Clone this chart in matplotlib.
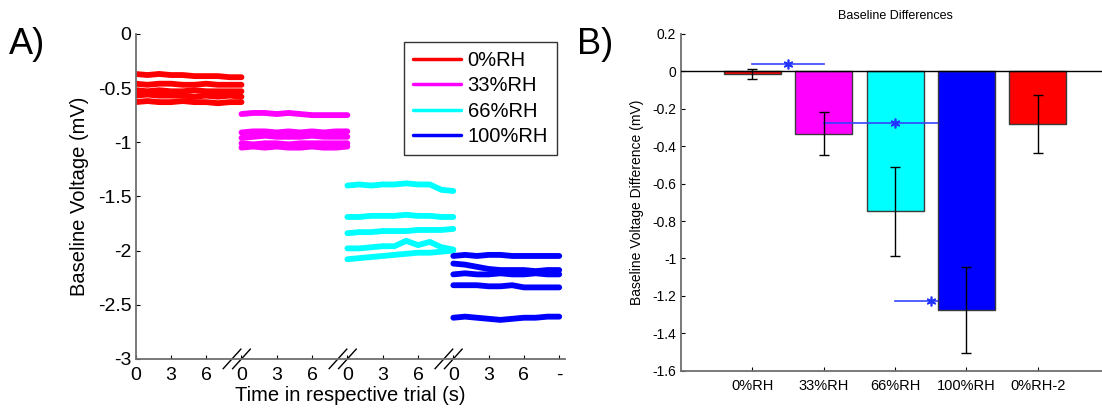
import numpy as np
import matplotlib
matplotlib.use("Agg")
import matplotlib.pyplot as plt

plt.rcParams["font.family"] = ["Liberation Sans", "DejaVu Sans"]

# ---- Panel A: baseline traces, one 9 s trial per humidity ----
trial_time = [0, 1, 2, 3, 4, 5, 6, 7, 8, 9]  # s
trial_length = 9

rh0 = [
    [-0.37, -0.38, -0.37, -0.38, -0.38, -0.39, -0.39, -0.39, -0.40, -0.40],
    [-0.46, -0.47, -0.46, -0.46, -0.47, -0.47, -0.46, -0.47, -0.47, -0.47],
    [-0.52, -0.53, -0.52, -0.53, -0.53, -0.52, -0.53, -0.53, -0.53, -0.53],
    [-0.57, -0.56, -0.57, -0.57, -0.57, -0.58, -0.57, -0.58, -0.57, -0.58],
    [-0.63, -0.62, -0.63, -0.63, -0.62, -0.63, -0.63, -0.64, -0.63, -0.63],
]
rh33 = [
    [-0.74, -0.73, -0.73, -0.74, -0.73, -0.74, -0.75, -0.75, -0.75, -0.75],
    [-0.91, -0.90, -0.90, -0.91, -0.90, -0.91, -0.90, -0.91, -0.90, -0.90],
    [-0.96, -0.95, -0.94, -0.95, -0.95, -0.95, -0.94, -0.95, -0.95, -0.95],
    [-1.01, -1.02, -1.01, -1.01, -1.02, -1.01, -1.01, -1.01, -1.01, -1.01],
    [-1.05, -1.04, -1.05, -1.04, -1.05, -1.05, -1.04, -1.05, -1.05, -1.04],
]
rh66 = [
    [-1.40, -1.39, -1.40, -1.39, -1.39, -1.38, -1.39, -1.39, -1.44, -1.45],
    [-1.69, -1.69, -1.68, -1.68, -1.68, -1.67, -1.68, -1.68, -1.69, -1.69],
    [-1.84, -1.83, -1.83, -1.82, -1.82, -1.82, -1.81, -1.81, -1.81, -1.80],
    [-1.98, -1.98, -1.97, -1.96, -1.96, -1.91, -1.95, -1.92, -1.97, -1.99],
    [-2.08, -2.07, -2.06, -2.05, -2.04, -2.03, -2.02, -2.02, -2.01, -2.00],
]
rh100 = [
    [-2.05, -2.04, -2.05, -2.04, -2.04, -2.05, -2.05, -2.05, -2.05, -2.05],
    [-2.12, -2.13, -2.15, -2.17, -2.18, -2.18, -2.18, -2.19, -2.18, -2.18],
    [-2.22, -2.21, -2.22, -2.22, -2.21, -2.22, -2.22, -2.21, -2.22, -2.22],
    [-2.32, -2.32, -2.32, -2.33, -2.33, -2.32, -2.34, -2.34, -2.34, -2.34],
    [-2.62, -2.61, -2.62, -2.63, -2.64, -2.63, -2.62, -2.62, -2.61, -2.61],
]
trace_labels = ["0%RH", "33%RH", "66%RH", "100%RH"]
trace_colors = ["#ff0000", "#ff00ff", "#00ffff", "#0000ff"]
time_ticks = [0, 3, 6, 9, 12, 15, 18, 21, 24, 27, 30, 33, 36]
time_ticklabels = ["0", "3", "6", "0", "3", "6", "0", "3", "6", "0", "3", "6", "-"]

# ---- Panel B: mean baseline differences ----
categories = ["0%RH", "33%RH", "66%RH", "100%RH", "0%RH-2"]
diffs = [-0.015, -0.332, -0.748, -1.276, -0.282]
diff_err = [0.028, 0.117, 0.237, 0.232, 0.156]
bar_colors = ["#ff0000", "#ff00ff", "#00ffff", "#0000ff", "#ff0000"]
# comparison lines: (from category, to category, level)
comparisons = [(1, 2, 0.04), (2, 4, -0.276), (3, 4, -1.23)]

axis_grey = "#6e6e6e"

fig = plt.figure(figsize=(11.02, 4.13), dpi=100)

# ----------------- A -----------------
ax1 = fig.add_axes([0.123, 0.131, 0.3898, 0.787])
for segment, (traces, color, label) in enumerate(zip([rh0, rh33, rh66, rh100], trace_colors, trace_labels)):
    offset = segment * trial_length
    for k, trace in enumerate(traces):
        ax1.plot(np.array(trial_time) + offset, trace, color=color, lw=4.2,
                 solid_capstyle="round", solid_joinstyle="round",
                 label=label if k == 0 else None)

ax1.set_xlim(0, 36.5)
ax1.set_ylim(-3, 0)
ax1.set_yticks([0, -0.5, -1, -1.5, -2, -2.5, -3])
ax1.set_yticklabels(["0", "-0.5", "-1", "-1.5", "-2", "-2.5", "-3"])
ax1.set_xticks(time_ticks)
ax1.set_xticklabels(time_ticklabels)
ax1.tick_params(direction="in", length=3, labelsize=14, colors="black", pad=3)
ax1.tick_params(axis="x", pad=6)
for side in ["top", "right"]:
    ax1.spines[side].set_visible(False)
for side in ["left", "bottom"]:
    ax1.spines[side].set_color(axis_grey)
    ax1.spines[side].set_linewidth(1.3)
ax1.set_xlabel("Time in respective trial (s)", fontsize=14.5, labelpad=1)
ax1.set_ylabel("Baseline Voltage (mV)", fontsize=14.5, labelpad=6)

# axis break marks between trials
trans = ax1.get_xaxis_transform()
for start in [9, 18, 27]:
    for dx in [-0.8, 0.0]:
        ax1.plot([start + dx - 0.75, start + dx + 0.75], [-0.03, 0.03], color="black",
                 lw=1, transform=trans, clip_on=False)

leg = ax1.legend(loc="upper right", bbox_to_anchor=(0.981, 0.975), borderaxespad=0,
                 fontsize=14.5, frameon=True, fancybox=False, handlelength=2.4,
                 handletextpad=0.3, labelspacing=0.32, borderpad=0.45)
leg.get_frame().set_edgecolor("black")
leg.get_frame().set_linewidth(1)
for line in leg.get_lines():
    line.set_linewidth(2.5)

# ----------------- B -----------------
ax2 = fig.add_axes([0.618, 0.1024, 0.3884, 0.8153])
positions = np.arange(1, len(categories) + 1)
for pos, val, err, color in zip(positions, diffs, diff_err, bar_colors):
    z = 4 if color == "#0000ff" else 2
    ax2.bar(pos, val, width=0.8, color=color, edgecolor="#3a3a3a", linewidth=1, zorder=z)
ax2.errorbar(positions, diffs, yerr=diff_err, fmt="none", ecolor="black",
             elinewidth=1, capsize=3.5, capthick=1, zorder=6)

for x0, x1, level in comparisons:
    ax2.plot([x0, x1], [level, level], color="#3344ff", lw=1.2, zorder=3)
    ax2.plot([(x0 + x1) / 2], [level], marker=(6, 2, 0), color="#2233ff",
             markersize=7, mew=1.2, zorder=3)

ax2.axhline(0, color="black", lw=1, zorder=5)
ax2.set_xlim(0, 6)
ax2.set_ylim(-1.6, 0.2)
ax2.set_yticks(np.arange(-1.6, 0.21, 0.2))
ax2.set_yticklabels(["-1.6", "-1.4", "-1.2", "-1", "-0.8", "-0.6", "-0.4", "-0.2", "0", "0.2"])
ax2.set_xticks(positions)
ax2.set_xticklabels(categories)
ax2.tick_params(direction="in", length=3, colors="black")
ax2.tick_params(axis="y", labelsize=10)
ax2.tick_params(axis="x", labelsize=10.5, pad=6)
for side in ["top", "right"]:
    ax2.spines[side].set_visible(False)
for side in ["left", "bottom"]:
    ax2.spines[side].set_color(axis_grey)
    ax2.spines[side].set_linewidth(1.3)
ax2.set_ylabel("Baseline Voltage Difference (mV)", fontsize=10, labelpad=6)
ax2.set_title("Baseline Differences", fontsize=9, pad=11)

fig.text(0.008, 0.87, "A)", fontsize=26)
fig.text(0.524, 0.87, "B)", fontsize=26)

fig.savefig("out.png", dpi=100)
